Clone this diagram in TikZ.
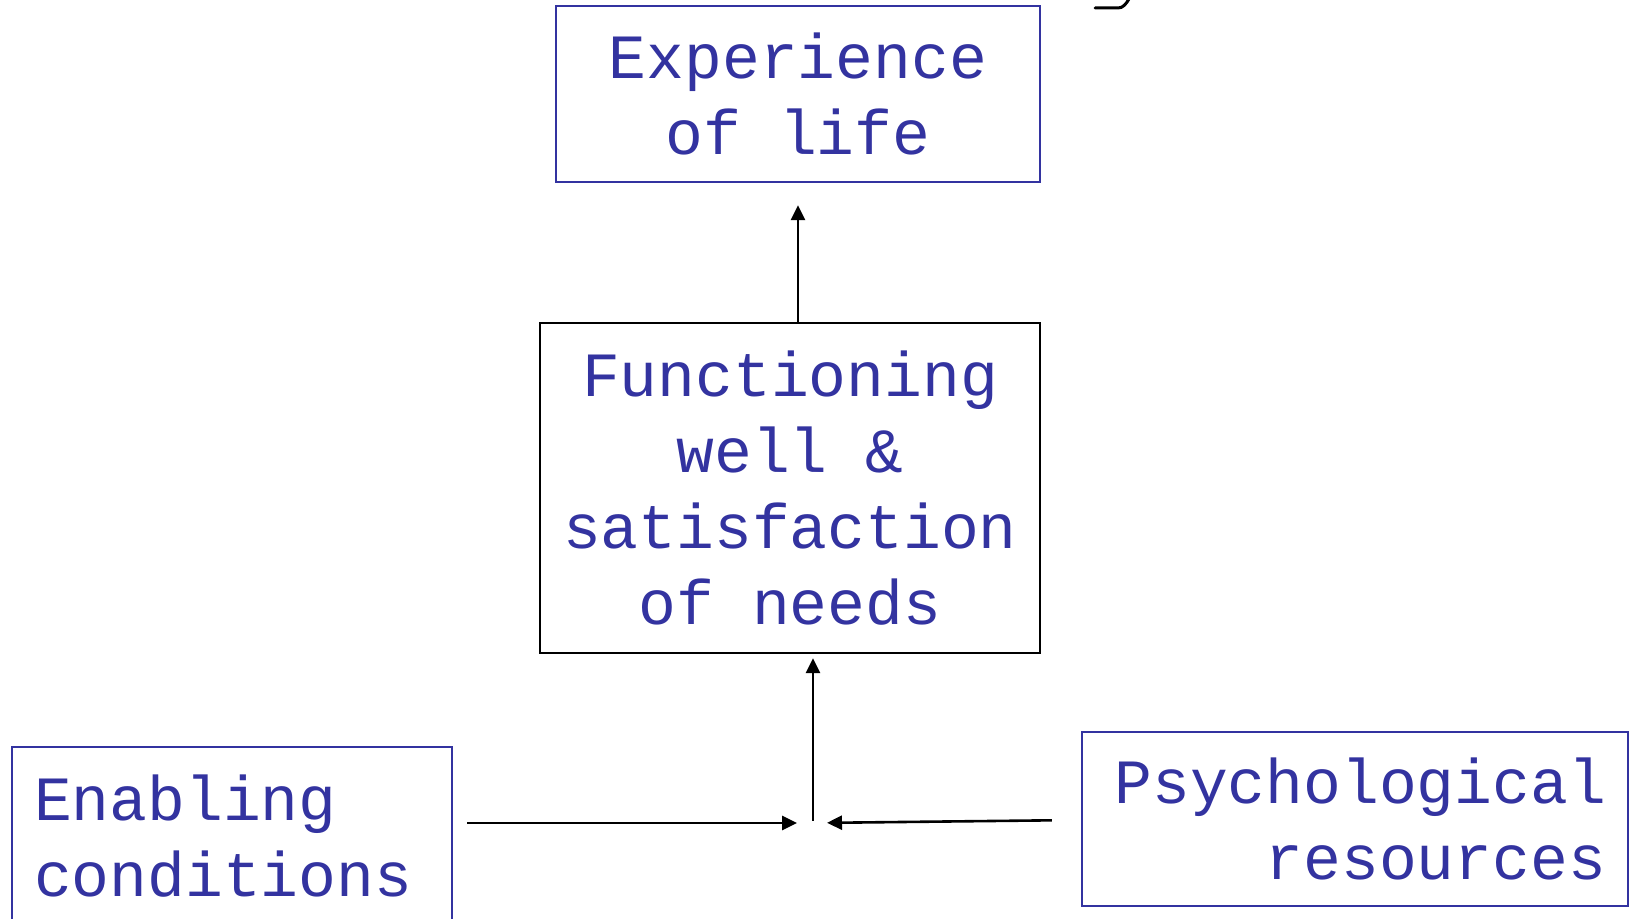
\documentclass[tikz,border=0pt]{standalone}
\usepackage{fontspec}
\setmonofont{Liberation Mono}
\usetikzlibrary{arrows.meta}
\definecolor{boxblue}{RGB}{51,51,160}

\tikzset{
  boxtext/.style={font=\ttfamily\fontsize{31.5}{38}\selectfont, text=boxblue},
  bluebox/.style={draw=boxblue, line width=1.2pt, boxtext, align=center, inner sep=0pt},
  blackbox/.style={draw=black, line width=1.2pt, boxtext, align=center, inner sep=0pt},
  flow/.style={draw=black, line width=1.3pt, -{Triangle[length=7.5pt,width=7pt]}}
}

\begin{document}
\begin{tikzpicture}[x=0.5pt,y=-0.5pt]
\useasboundingbox (0,0) rectangle (1630,919);

\node[bluebox, minimum width=242pt, minimum height=88pt] (experience) at (798,94) {Experience\\of life};
\node[blackbox, minimum width=250pt, minimum height=165pt] (functioning) at (790,488) {Functioning\\well \&\\satisfaction\\of needs};
\node[bluebox, anchor=north west, align=left, inner xsep=11pt, text width=198pt, minimum height=89pt] (enabling) at (11,746) {Enabling\\conditions};
\node[bluebox, align=right, inner xsep=11pt, text width=251pt, minimum height=87pt] (resources) at (1355,819) {Psychological\\resources};

\coordinate (junction) at (813,823);

\draw[flow, shorten >=11pt] (experience.south |- functioning.north) -- (experience.south);
\draw[flow, shorten <=1pt, shorten >=2pt] (junction) -- (junction |- functioning.south);
\draw[flow, shorten <=7pt, shorten >=8pt] (enabling.east |- junction) -- (junction);
\draw[flow, shorten <=14.5pt, shorten >=7pt] ([yshift=1.5pt]resources.west |- junction) -- (junction);

% cut-off stroke at the top edge
\draw[line width=1.5pt, line cap=round] (1095,8) -- (1118,8) .. controls (1123,8) and (1126,4) .. (1129,-1);

\end{tikzpicture}
\end{document}
